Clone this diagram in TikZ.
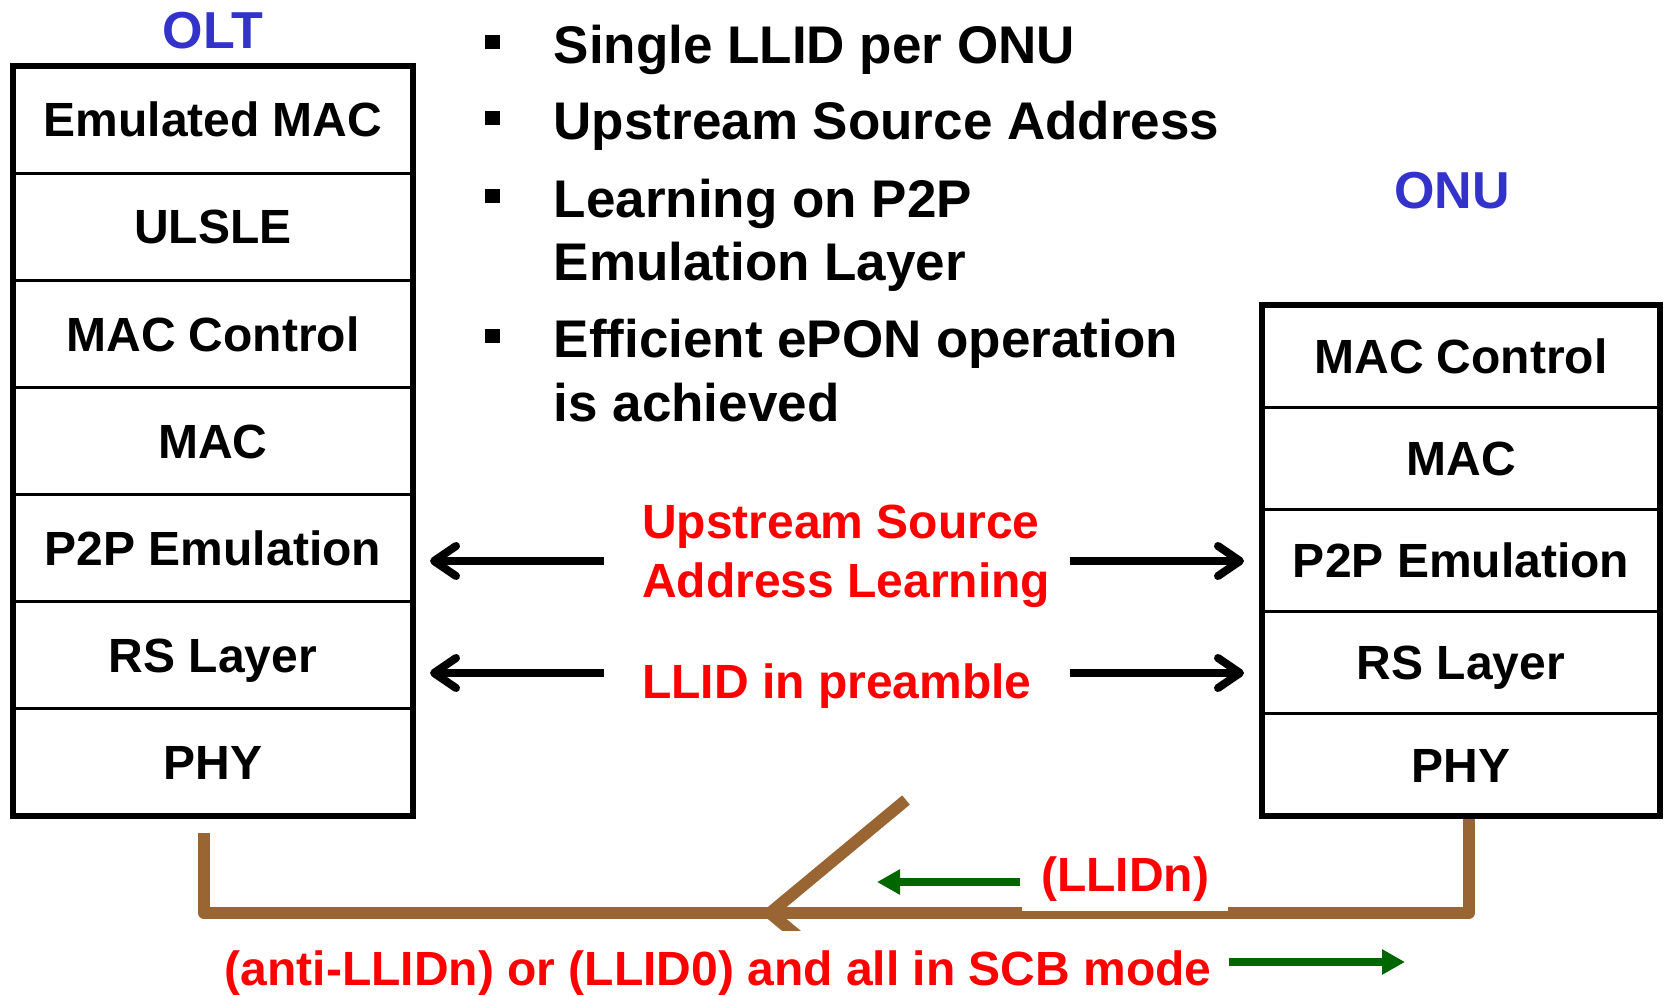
\documentclass[tikz,border=0pt]{standalone}
\usepackage{fontspec}
\setmainfont{Liberation Sans}
\usetikzlibrary{arrows.meta}
\definecolor{sidetitle}{HTML}{3333CC}
\definecolor{notered}{HTML}{FF0000}
\definecolor{fibre}{HTML}{996633}
\definecolor{flowgreen}{HTML}{006600}
\newcommand\fsz[1]{\fontsize{#1}{#1}\selectfont\bfseries}
\begin{document}
\begin{tikzpicture}[x=1pt,y=-1pt,
  layer/.style={draw, line width=3pt, inner sep=0pt, outer sep=0pt,
    text height=34.4pt, text depth=0pt, font=\fsz{48}},
  oltlayer/.style={layer, minimum width=400pt, minimum height=107.14pt},
  onulayer/.style={layer, minimum width=398pt, minimum height=102.2pt},
  frame/.style={line width=6pt},
  title/.style={text=sidetitle, font=\fsz{52}, inner sep=0pt,
    text height=37.2pt, text depth=0pt},
  bullettext/.style={anchor=base west, inner sep=0pt, font=\fsz{53}},
  bulletmark/.style={fill=black, inner sep=0pt, minimum width=15pt, minimum height=14pt},
  note/.style={anchor=base west, inner sep=0pt, text=notered, font=\fsz{48}},
  layerarrow/.style={line width=8pt, -{Straight Barb[length=22pt,width=30pt,round]}},
  fibreline/.style={draw=fibre, line width=12pt, line join=round},
  flowarrow/.style={draw=flowgreen, line width=8pt,
    -{Triangle[length=23pt,width=24pt]}, color=flowgreen},
]
\useasboundingbox (0,0) rectangle (1669,995);

% fibre plant: OLT port, trunk, ONU port
\coordinate (oltport) at (204,833);
\coordinate (trunkL) at (204,913);
\coordinate (trunkR) at (1469,913);
\coordinate (onuport) at (1469,816);
\draw[fibreline] (oltport) -- (trunkL) -- (trunkR) -- (onuport);

% splitter branch
\coordinate (splitjoin) at (770,913);
\coordinate (branchend) at (906,800);
\coordinate (droptail) at (800,938);
\begin{scope}
  \clip (0,0) rectangle (1669,930);
  \draw[fibreline, line join=miter] (branchend) -- (splitjoin) -- (droptail);
\end{scope}

% OLT protocol stack
\node[title] (olttitle) at (213,30) {OLT};
\foreach \i/\t in {1/Emulated MAC,2/ULSLE,3/MAC Control,4/MAC,5/P2P Emulation,6/RS Layer,7/PHY}
  \node[oltlayer] (olt\i) at (213,{66+107.14*(\i-0.5)}) {\t};
\draw[frame] (olt1.north west) rectangle (olt7.south east);

% ONU protocol stack
\node[title] (onutitle) at (1452,189.5) {ONU};
\foreach \i/\t in {1/MAC Control,2/MAC,3/P2P Emulation,4/RS Layer,5/PHY}
  \node[onulayer] (onu\i) at (1461,{305+102.2*(\i-0.5)}) {\t};
\draw[frame] (onu1.north west) rectangle (onu5.south east);

% bullet list
\node[bulletmark] (b1) at (492.5,42) {};
\node[bulletmark] (b2) at (492.5,118) {};
\node[bulletmark] (b3) at (492.5,196) {};
\node[bulletmark] (b4) at (492.5,336) {};
\node[bullettext] (t1) at (553.5,63.7) {Single LLID per ONU};
\node[bullettext] (t2) at (553.5,139.3) {Upstream Source Address};
\node[bullettext] (t3a) at (553.5,217) {Learning on P2P};
\node[bullettext] (t3b) at (553.5,280.8) {Emulation Layer};
\node[bullettext] (t4a) at (553.5,357.5) {Efficient ePON operation};
\node[bullettext] (t4b) at (553.5,421.3) {is achieved};

% layer annotations
\node[note] (us1) at (642,538.7) {Upstream Source};
\node[note] (us2) at (642,597) {Address Learning};
\node[note] (llid) at (642,698) {LLID in preamble};

\coordinate (usTailL) at (604,561);
\coordinate (usTipL) at (430,561);
\coordinate (usTailR) at (1070,561);
\coordinate (usTipR) at (1244,561);
\coordinate (llTailL) at (604,673);
\coordinate (llTipL) at (430,673);
\coordinate (llTailR) at (1070,673);
\coordinate (llTipR) at (1244,673);
\draw[layerarrow] (usTailL) -- (usTipL);
\draw[layerarrow] (usTailR) -- (usTipR);
\draw[layerarrow] (llTailL) -- (llTipL);
\draw[layerarrow] (llTailR) -- (llTipR);

% traffic directions on the fibre
\node[note, fill=white, inner xsep=19pt, inner ysep=10pt] (llidn) at (1022,891) {(LLIDn)};
\coordinate (dnTail) at (1020,882);
\coordinate (dnTip) at (877,882);
\draw[flowarrow] (dnTail) -- (dnTip);

\node[note] (bcast) at (224.6,985) {(anti-LLIDn) or (LLID0) and all in SCB mode};
\coordinate (upTail) at (1229,962);
\coordinate (upTip) at (1405,962);
\draw[flowarrow] (upTail) -- (upTip);
\end{tikzpicture}
\end{document}
